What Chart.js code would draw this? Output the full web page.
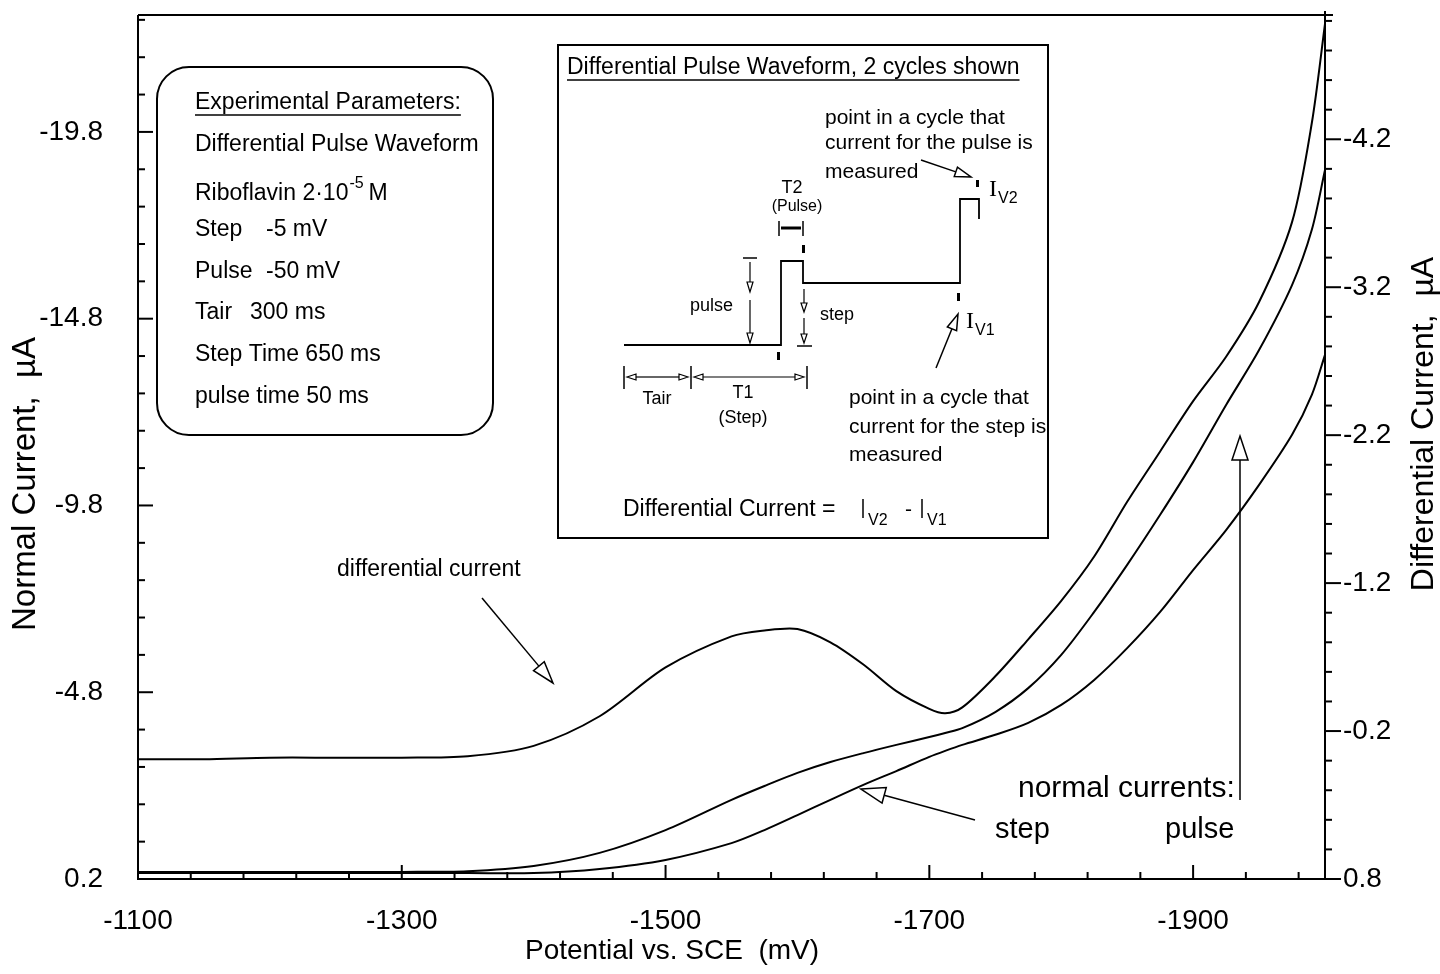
<!DOCTYPE html>
<html>
<head>
<meta charset="utf-8">
<title>Differential pulse polarogram of riboflavin</title>
<script src="https://cdn.jsdelivr.net/npm/chart.js@4.4.1/dist/chart.umd.min.js"></script>
<style>
  html, body { margin: 0; padding: 0; background: #fff; }
  #wrap { width: 1440px; height: 974px; }
</style>
</head>
<body>
<div id="wrap"><canvas id="dpChart" width="1440" height="974"></canvas></div>
<script>
const FONT = '"Liberation Sans", Arial, Helvetica, sans-serif';

// potential (mV vs SCE) where the three traces are sampled
const potential = [-1100, -1150, -1200, -1250, -1300, -1350, -1400, -1450, -1500, -1550,
  -1575, -1600, -1625, -1650, -1675, -1700, -1712, -1725, -1750, -1775,
  -1800, -1825, -1850, -1875, -1900, -1925, -1950, -1975, -1990, -2000];

// differential current, uA (right axis)
const diffCurrent = [-0.01, -0.01, -0.02, -0.02, -0.02, -0.03, -0.10, -0.30, -0.63, -0.84,
  -0.88, -0.89, -0.80, -0.65, -0.47, -0.35, -0.32, -0.36, -0.57, -0.82,
  -1.08, -1.38, -1.75, -2.09, -2.43, -2.73, -3.10, -3.64, -4.31, -4.98];

// normal currents, uA (left axis)
const pulseCurrent = [0.01, 0.01, 0.01, 0.01, 0.01, -0.01, -0.15, -0.50, -1.11, -1.92,
  -2.29, -2.64, -2.93, -3.17, -3.39, -3.60, -3.71, -3.84, -4.27, -4.91,
  -5.80, -6.95, -8.21, -9.55, -10.96, -12.49, -13.96, -15.70, -17.18, -18.78];
const stepCurrent = [0.04, 0.04, 0.04, 0.04, 0.04, 0.04, 0.04, -0.07, -0.31, -0.76,
  -1.11, -1.51, -1.92, -2.32, -2.69, -3.07, -3.23, -3.39, -3.66, -3.98,
  -4.46, -5.13, -5.98, -6.95, -8.07, -9.14, -10.35, -11.69, -12.76, -13.83];

// labelled ticks
const xTicks = [-1100, -1300, -1500, -1700, -1900];
const normalTicks = [0.2, -4.8, -9.8, -14.8, -19.8];
const diffTicks = [0.8, -0.2, -1.2, -2.2, -3.2, -4.2];

const series = ys => potential.map((p, i) => ({ x: p, y: ys[i] }));

function txt(ctx, s, x, y, size, align, family) {
  ctx.font = size + 'px ' + (family || FONT);
  ctx.textAlign = align || 'left';
  ctx.textBaseline = 'middle';
  ctx.fillText(s, x, y);
  return ctx.measureText(s).width;
}

function line(ctx, pts, w) {
  ctx.lineWidth = w || 1.5;
  ctx.beginPath();
  ctx.moveTo(pts[0], pts[1]);
  for (let i = 2; i < pts.length; i += 2) ctx.lineTo(pts[i], pts[i + 1]);
  ctx.stroke();
}

// line ending in a hollow triangular head at (x2, y2)
function openArrow(ctx, x1, y1, x2, y2, len, half, w) {
  const a = Math.atan2(y2 - y1, x2 - x1);
  const bx = x2 - len * Math.cos(a), by = y2 - len * Math.sin(a);
  const px = -Math.sin(a) * half, py = Math.cos(a) * half;
  ctx.lineWidth = w || 1.5;
  ctx.beginPath(); ctx.moveTo(x1, y1); ctx.lineTo(bx, by); ctx.stroke();
  ctx.beginPath();
  ctx.moveTo(x2, y2); ctx.lineTo(bx + px, by + py); ctx.lineTo(bx - px, by - py); ctx.closePath();
  ctx.fillStyle = '#fff'; ctx.fill(); ctx.stroke();
  ctx.fillStyle = '#000';
}

// keep the plot box where it is: no extra room for overhanging labels
function fixBox(size, prop) {
  return s => {
    s[prop] = size;
    s.paddingTop = 0; s.paddingBottom = 0; s.paddingLeft = 0; s.paddingRight = 0;
  };
}

// box frame, inward/outward tick marks and axis titles
const framePlugin = {
  id: 'frame',
  afterDraw(chart) {
    const { ctx, chartArea: a, scales } = chart;
    const x = scales.x, yN = scales.yNormal, yD = scales.yDiff;
    ctx.save();
    ctx.strokeStyle = '#000';
    ctx.fillStyle = '#000';
    line(ctx, [a.left, a.top, a.left, a.bottom, a.right, a.bottom], 2);
    line(ctx, [a.left, a.top, a.right + 8, a.top], 2);
    line(ctx, [a.right, a.top - 4, a.right, a.bottom], 2);

    // left axis: 1 uA steps, ticks pointing in
    for (let i = 0; i <= 23; i++) {
      const py = yN.getPixelForValue(0.2 - i);
      line(ctx, [a.left, py, a.left + (i % 5 === 0 ? 15 : 7), py], 2);
    }
    // right axis: 0.2 uA steps, ticks pointing out
    for (let i = 0; i <= 29; i++) {
      const py = yD.getPixelForValue(0.8 - i * 0.2);
      line(ctx, [a.right, py, a.right + (i % 5 === 0 ? 16 : 7), py], 2);
    }
    // bottom axis: 40 mV steps, ticks pointing up
    for (let i = 1; i < 23; i++) {
      const px = x.getPixelForValue(-1100 - i * 40);
      line(ctx, [px, a.bottom, px, a.bottom - (i % 5 === 0 ? 14 : 7)], 2);
    }

    txt(ctx, 'Potential vs. SCE  (mV)', 672, 951, 28, 'center');
    ctx.save();
    ctx.translate(26, 484); ctx.rotate(-Math.PI / 2);
    txt(ctx, 'Normal Current,  \u00b5A', 0, 0, 33, 'center');
    ctx.restore();
    ctx.save();
    ctx.translate(1424, 424); ctx.rotate(-Math.PI / 2);
    txt(ctx, 'Differential Current,  \u00b5A', 0, 0, 32, 'center');
    ctx.restore();
    ctx.restore();
  }
};

// parameter box, waveform sketch and curve labels
const notesPlugin = {
  id: 'notes',
  afterDraw(chart) {
    const ctx = chart.ctx;
    ctx.save();
    ctx.strokeStyle = '#000';
    ctx.fillStyle = '#000';

    // experimental parameters
    ctx.lineWidth = 2;
    ctx.beginPath(); ctx.roundRect(157, 67, 336, 368, 32); ctx.stroke();
    let w = txt(ctx, 'Experimental Parameters:', 195, 103, 23);
    line(ctx, [195, 115, 195 + w, 115], 1.5);
    txt(ctx, 'Differential Pulse Waveform', 195, 145, 23);
    w = txt(ctx, 'Riboflavin 2\u00b710', 195, 194, 23);
    txt(ctx, '-5', 195 + w + 1, 184, 16);
    txt(ctx, 'M', 195 + w + 20, 194, 23);
    txt(ctx, 'Step', 195, 230, 23);
    txt(ctx, '-5 mV', 266, 230, 23);
    txt(ctx, 'Pulse', 195, 272, 23);
    txt(ctx, '-50 mV', 266, 272, 23);
    txt(ctx, 'Tair', 195, 313, 23);
    txt(ctx, '300 ms', 250, 313, 23);
    txt(ctx, 'Step Time 650 ms', 195, 355, 23);
    txt(ctx, 'pulse time 50 ms', 195, 397, 23);

    // waveform inset
    ctx.fillStyle = '#fff';
    ctx.fillRect(558, 45, 490, 493);
    ctx.fillStyle = '#000';
    ctx.lineWidth = 2;
    ctx.strokeRect(558, 45, 490, 493);
    w = txt(ctx, 'Differential Pulse Waveform, 2 cycles shown', 567, 68, 23);
    line(ctx, [567, 80, 567 + w, 80], 1.5);

    line(ctx, [624, 345, 781, 345, 781, 261, 803, 261, 803, 283, 960, 283, 960, 199, 979, 199, 979, 219], 1.8);
    ctx.fillRect(802, 245, 3, 8);
    ctx.fillRect(777, 352, 3, 8);
    ctx.fillRect(957, 293, 3, 8);
    ctx.fillRect(976, 180, 3, 7);

    // T2 bar
    txt(ctx, 'T2', 792, 188, 18, 'center');
    txt(ctx, '(Pulse)', 797, 207, 16, 'center');
    line(ctx, [779, 221, 779, 236], 1.5);
    line(ctx, [803, 221, 803, 236], 1.5);
    line(ctx, [781, 228, 801, 228], 3);

    // pulse and step heights
    line(ctx, [743, 258, 757, 258], 1.5);
    openArrow(ctx, 750, 262, 750, 292, 10, 3, 1.2);
    openArrow(ctx, 750, 300, 750, 343, 10, 3, 1.2);
    txt(ctx, 'pulse', 690, 306, 18);
    openArrow(ctx, 804, 289, 804, 312, 9, 3, 1.2);
    openArrow(ctx, 804, 318, 804, 343, 9, 3, 1.2);
    line(ctx, [797, 346, 812, 346], 1.5);
    txt(ctx, 'step', 820, 315, 18);

    // Tair and T1 spans
    line(ctx, [624, 366, 624, 389], 1.5);
    line(ctx, [691, 366, 691, 389], 1.5);
    line(ctx, [807, 366, 807, 389], 1.5);
    openArrow(ctx, 657, 377, 627, 377, 9, 3, 1.2);
    openArrow(ctx, 657, 377, 688, 377, 9, 3, 1.2);
    openArrow(ctx, 745, 377, 694, 377, 9, 3, 1.2);
    openArrow(ctx, 745, 377, 804, 377, 9, 3, 1.2);
    txt(ctx, 'Tair', 657, 399, 18, 'center');
    txt(ctx, 'T1', 743, 393, 18, 'center');
    txt(ctx, '(Step)', 743, 418, 18, 'center');

    // measurement points
    txt(ctx, 'point in a cycle that', 825, 118, 21);
    txt(ctx, 'current for the pulse is', 825, 143, 21);
    txt(ctx, 'measured', 825, 172, 21);
    openArrow(ctx, 921, 160, 971, 177, 16, 5, 1.5);
    txt(ctx, 'I', 989, 190, 24, 'left', '"Liberation Serif", "Times New Roman", serif');
    txt(ctx, 'V2', 998, 199, 16);
    txt(ctx, 'I', 966, 322, 24, 'left', '"Liberation Serif", "Times New Roman", serif');
    txt(ctx, 'V1', 975, 331, 16);
    openArrow(ctx, 936, 368, 958, 314, 16, 5, 1.5);
    txt(ctx, 'point in a cycle that', 849, 398, 21);
    txt(ctx, 'current for the step is', 849, 427, 21);
    txt(ctx, 'measured', 849, 455, 21);

    txt(ctx, 'Differential Current =', 623, 510, 23);
    line(ctx, [863, 499, 863, 518], 1.5);
    txt(ctx, 'V2', 868, 521, 16);
    txt(ctx, '-', 905, 510, 21);
    line(ctx, [922, 499, 922, 518], 1.5);
    txt(ctx, 'V1', 927, 521, 16);

    // curve labels
    txt(ctx, 'differential current', 337, 570, 23);
    openArrow(ctx, 482, 598, 553, 683, 22, 7, 1.5);
    txt(ctx, 'normal currents:', 1018, 789, 30);
    txt(ctx, 'step', 995, 830, 29);
    txt(ctx, 'pulse', 1165, 830, 29);
    openArrow(ctx, 975, 820, 861, 789, 24, 8, 1.5);
    openArrow(ctx, 1240, 800, 1240, 436, 24, 8, 1.5);
    ctx.restore();
  }
};

const tickFont = { family: FONT, size: 28 };
const trace = { borderColor: '#000', borderWidth: 2, pointRadius: 0, tension: 0.3, fill: false };

new Chart(document.getElementById('dpChart'), {
  type: 'line',
  data: {
    datasets: [
      { ...trace, label: 'differential current', data: series(diffCurrent), yAxisID: 'yDiff' },
      { ...trace, label: 'pulse', data: series(pulseCurrent), yAxisID: 'yNormal' },
      { ...trace, label: 'step', data: series(stepCurrent), yAxisID: 'yNormal' }
    ]
  },
  options: {
    responsive: false,
    animation: false,
    devicePixelRatio: 1,
    layout: { padding: { top: 15, left: 0, right: 0, bottom: 0 } },
    plugins: { legend: { display: false }, tooltip: { enabled: false } },
    scales: {
      x: {
        type: 'linear', position: 'bottom', reverse: true, min: -2000, max: -1100,
        afterFit: fixBox(95, 'height'),
        afterBuildTicks: s => { s.ticks = xTicks.map(v => ({ value: v })); },
        grid: { display: false, drawTicks: false }, border: { display: false },
        ticks: { color: '#000', font: tickFont, padding: 25, maxRotation: 0, autoSkip: false, callback: v => String(v) }
      },
      yNormal: {
        type: 'linear', position: 'left', reverse: true, min: -22.93, max: 0.2,
        afterFit: fixBox(138, 'width'),
        afterBuildTicks: s => { s.ticks = normalTicks.map(v => ({ value: v })); },
        grid: { display: false, drawTicks: false }, border: { display: false },
        ticks: { color: '#000', font: tickFont, padding: 35, autoSkip: false, callback: v => v.toFixed(1) }
      },
      yDiff: {
        type: 'linear', position: 'right', reverse: true, min: -5.04, max: 0.8,
        afterFit: fixBox(115, 'width'),
        afterBuildTicks: s => { s.ticks = diffTicks.map(v => ({ value: v })); },
        grid: { display: false, drawTicks: false }, border: { display: false },
        ticks: { color: '#000', font: tickFont, padding: 18, autoSkip: false, callback: v => v.toFixed(1) }
      }
    }
  },
  plugins: [framePlugin, notesPlugin]
});
</script>
</body>
</html>
